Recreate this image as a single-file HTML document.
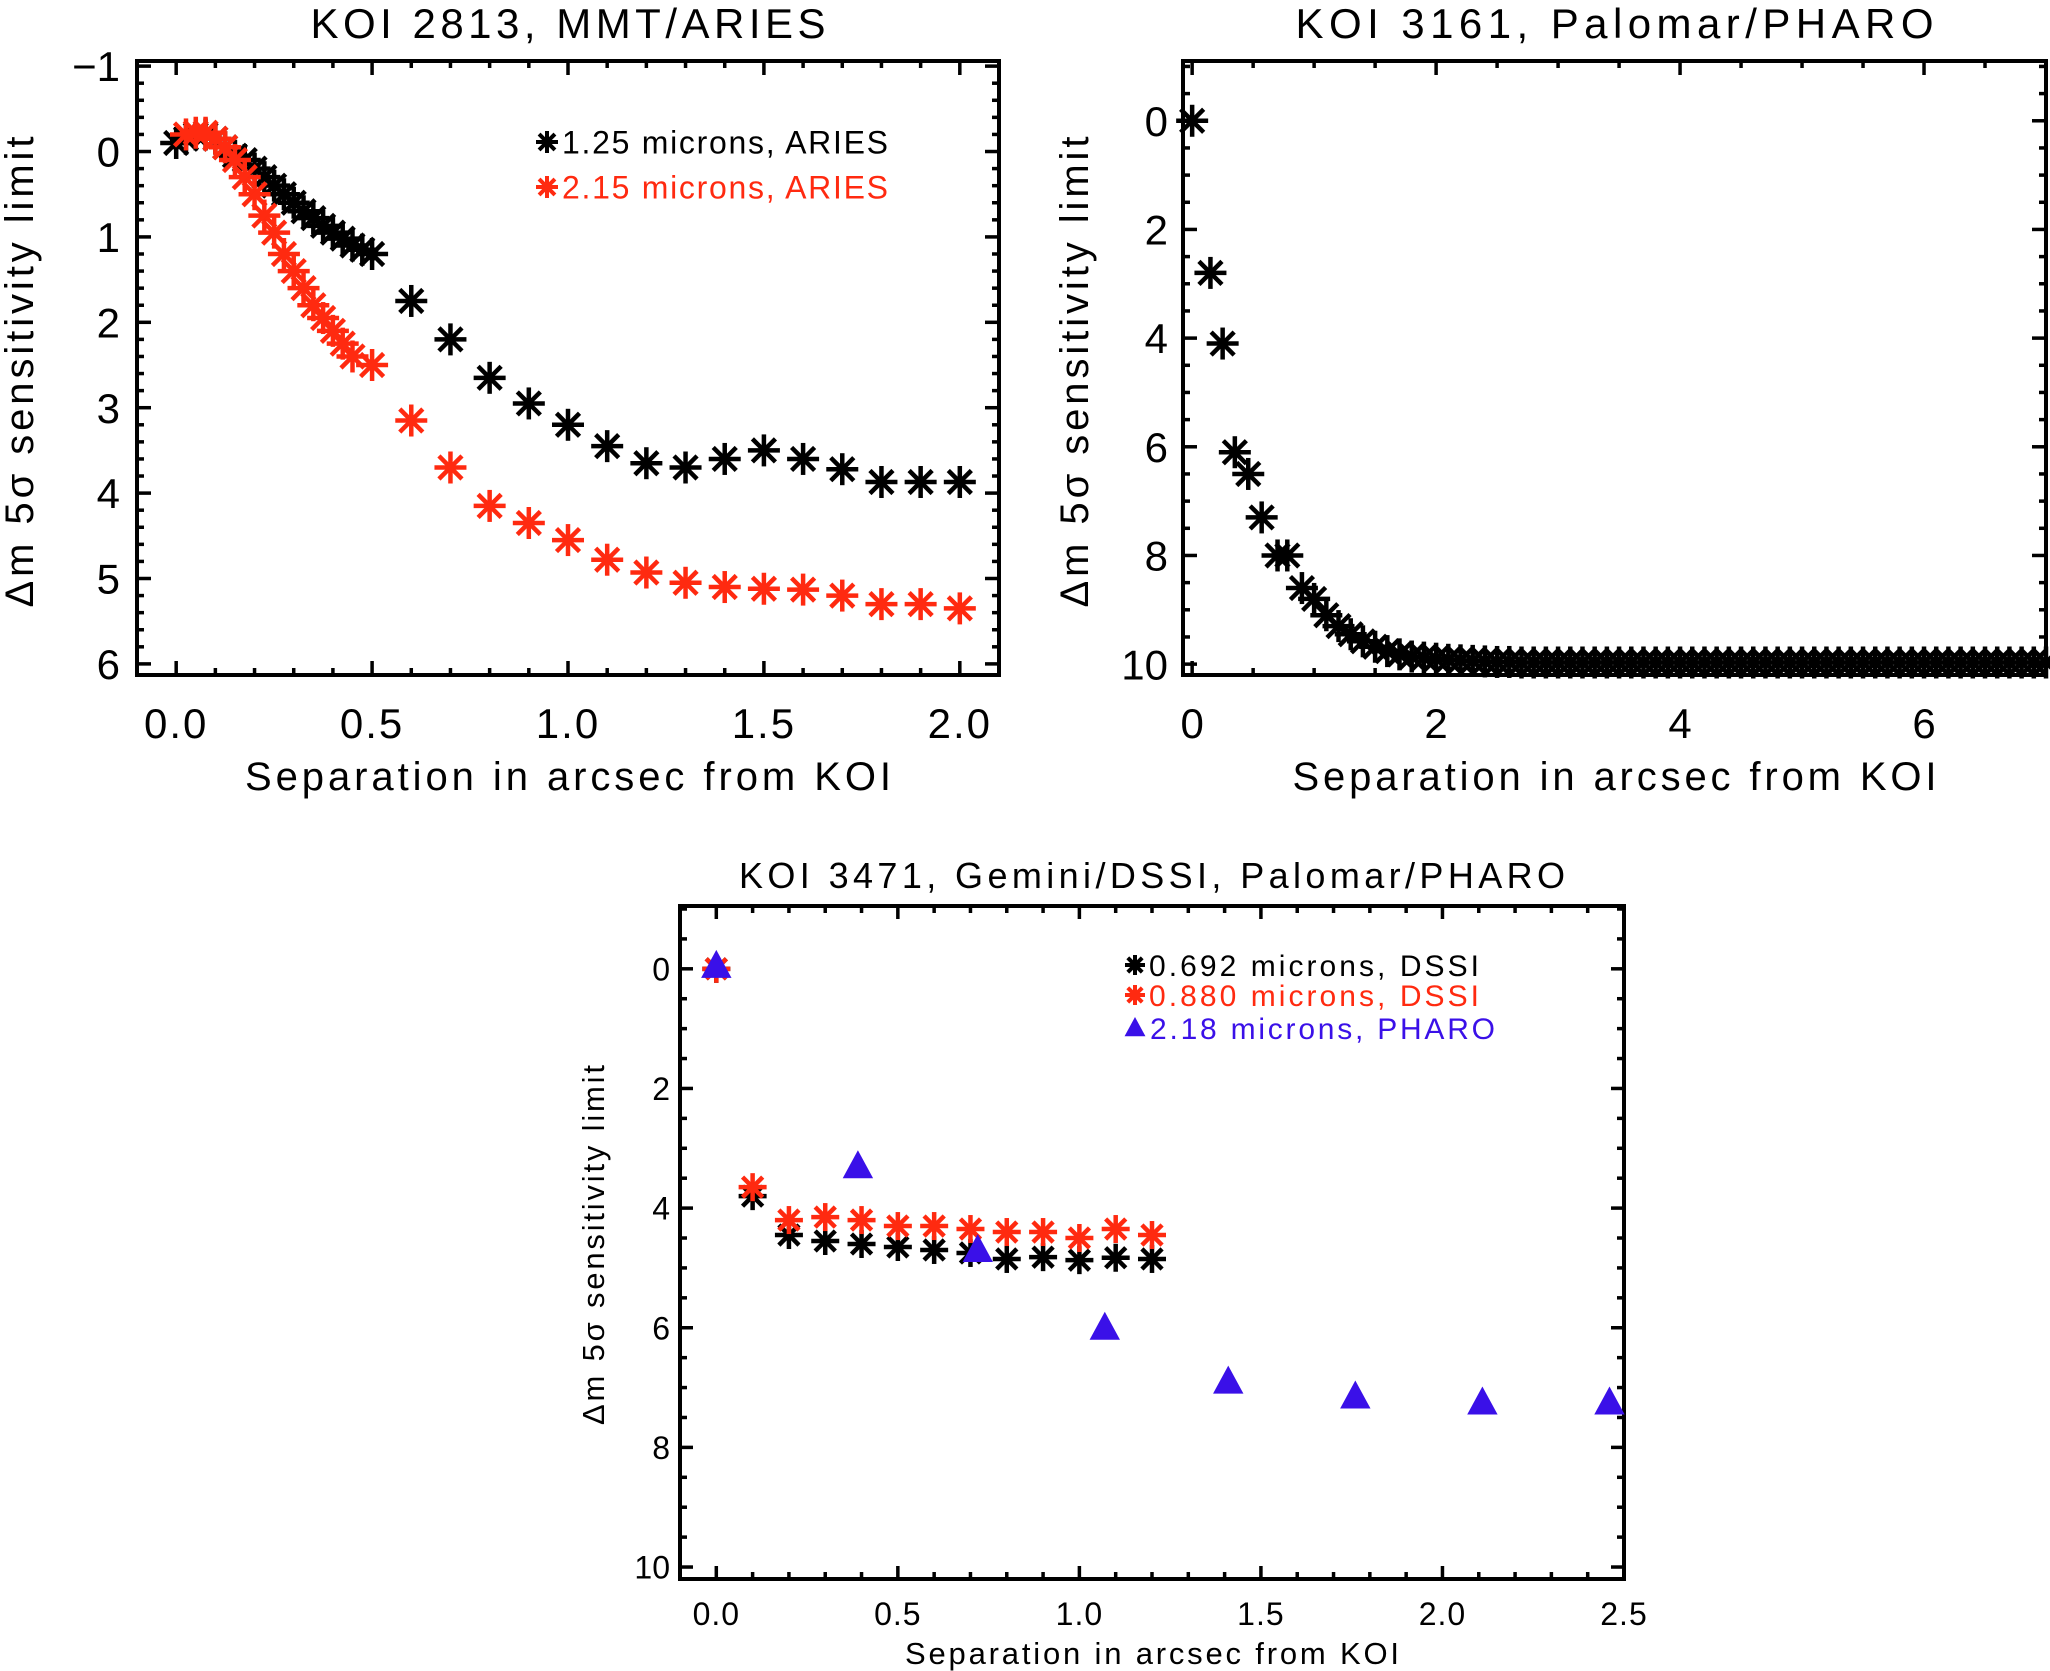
<!DOCTYPE html>
<html><head><meta charset="utf-8"><style>
html,body{margin:0;padding:0;background:#fff}
svg{display:block}
text{font-family:"Liberation Sans",sans-serif;fill:#000}
</style></head><body>
<svg id="fig" width="2050" height="1671" viewBox="0 0 2050 1671" xmlns="http://www.w3.org/2000/svg"></svg>
<script>
// ---- Panel 1: KOI 2813 ----
const p1BlackX=[0,0.025,0.05,0.075,0.1,0.125,0.15,0.175,0.2,0.225,0.25,0.275,0.3,0.325,0.35,0.375,0.4,0.425,0.45,0.475,0.5,0.6,0.7,0.8,0.9,1.0,1.1,1.2,1.3,1.4,1.5,1.6,1.7,1.8,1.9,2.0];
const p1BlackY=[-0.1,-0.15,-0.2,-0.2,-0.15,-0.05,0.05,0.1,0.2,0.3,0.4,0.5,0.6,0.7,0.78,0.87,0.95,1.02,1.1,1.15,1.2,1.75,2.2,2.65,2.95,3.2,3.45,3.65,3.7,3.6,3.5,3.6,3.72,3.87,3.87,3.87];
const p1RedX=[0.025,0.05,0.075,0.1,0.125,0.15,0.175,0.2,0.225,0.25,0.275,0.3,0.325,0.35,0.375,0.4,0.425,0.45,0.5,0.6,0.7,0.8,0.9,1.0,1.1,1.2,1.3,1.4,1.5,1.6,1.7,1.8,1.9,2.0];
const p1RedY=[-0.2,-0.22,-0.22,-0.15,-0.05,0.1,0.3,0.5,0.75,0.95,1.2,1.4,1.6,1.8,1.95,2.1,2.25,2.4,2.5,3.15,3.7,4.15,4.35,4.55,4.78,4.93,5.05,5.1,5.12,5.13,5.2,5.3,5.3,5.35];
const p1XTicks=["0.0","0.5","1.0","1.5","2.0"];
const p1YTicks=["−1","0","1","2","3","4","5","6"];
// ---- Panel 2: KOI 3161 ----
const p2X=[0,0.15,0.25,0.35,0.46,0.57,0.7,0.78,0.9,1.0,1.1,1.2,1.3,1.4,1.5,1.6,1.7,1.8,1.9,2.0,2.1,2.2,2.3,2.4,2.5,2.6,2.7,2.8,2.9,3.0,3.1,3.2,3.3,3.4,3.5,3.6,3.7,3.8,3.9,4.0,4.1,4.2,4.3,4.4,4.5,4.6,4.7,4.8,4.9,5.0,5.1,5.2,5.3,5.4,5.5,5.6,5.7,5.8,5.9,6.0,6.1,6.2,6.3,6.4,6.5,6.6,6.7,6.8,6.9,7.0];
const p2Y=[0,2.8,4.1,6.1,6.5,7.3,8.0,8.0,8.6,8.8,9.1,9.3,9.45,9.58,9.68,9.76,9.82,9.86,9.88,9.9,9.92,9.93,9.94,9.95,9.96,9.96,9.97,9.97,9.97,9.97,9.97,9.97,9.97,9.97,9.97,9.97,9.97,9.97,9.97,9.97,9.97,9.97,9.97,9.97,9.97,9.97,9.97,9.97,9.97,9.97,9.97,9.97,9.97,9.97,9.97,9.97,9.97,9.97,9.97,9.97,9.97,9.97,9.97,9.97,9.97,9.97,9.97,9.97,9.97,9.97];
const p2XTicks=["0","2","4","6"];
const p2YTicks=["0","2","4","6","8","10"];
// ---- Panel 3: KOI 3471 ----
const p3BlackX=[0,0.1,0.2,0.3,0.4,0.5,0.6,0.7,0.8,0.9,1.0,1.1,1.2];
const p3BlackY=[0.0,3.8,4.45,4.55,4.6,4.65,4.7,4.75,4.85,4.82,4.87,4.83,4.85];
const p3RedX=[0,0.1,0.2,0.3,0.4,0.5,0.6,0.7,0.8,0.9,1.0,1.1,1.2];
const p3RedY=[0.0,3.65,4.2,4.15,4.2,4.3,4.3,4.35,4.4,4.4,4.5,4.35,4.45];
const p3BlueX=[0.0,0.39,0.72,1.07,1.41,1.76,2.11,2.46];
const p3BlueY=[-0.05,3.3,4.7,6.0,6.9,7.15,7.25,7.25];
const p3XTicks=["0.0","0.5","1.0","1.5","2.0","2.5"];
const p3YTicks=["0","2","4","6","8","10"];

const NS="http://www.w3.org/2000/svg";
const svg=document.getElementById('fig');
function mk(tag,attrs,parent){const e=document.createElementNS(NS,tag);for(const k in attrs)e.setAttribute(k,attrs[k]);(parent||svg).appendChild(e);return e;}

function panel(o){
  const g=mk('g',{});
  
  
  const sx=v=>o.L+(v-o.x0)/(o.x1-o.x0)*(o.R-o.L);
  const sy=v=>o.T+(v-o.y0)/(o.y1-o.y0)*(o.B-o.T);
  const tg=mk('g',{stroke:'#000','stroke-width':3.5},g);
  for(let v=o.xMinStart;v<=o.x1+1e-9;v+=o.xMinor){
    const x=sx(v); if(x<o.L-0.5||x>o.R+0.5)continue;
    const maj=Math.abs(v/o.xMajor-Math.round(v/o.xMajor))<1e-6;
    const len=maj?o.majLen:o.minLen;
    mk('line',{x1:x,y1:o.B,x2:x,y2:o.B-len},tg);
    mk('line',{x1:x,y1:o.T,x2:x,y2:o.T+len},tg);
  }
  for(let v=o.yMinStart;v<=o.y1+1e-9;v+=o.yMinor){
    const y=sy(v); if(y<o.T-0.5||y>o.B+0.5)continue;
    const maj=Math.abs(v/o.yMajor-Math.round(v/o.yMajor))<1e-6;
    const len=maj?o.majLen:o.minLen;
    mk('line',{x1:o.L,y1:y,x2:o.L+len,y2:y},tg);
    mk('line',{x1:o.R,y1:y,x2:o.R-len,y2:y},tg);
  }
  mk('rect',{x:o.L,y:o.T,width:o.R-o.L,height:o.B-o.T,fill:'none',stroke:'#000','stroke-width':4},g);
  o.xTicks.forEach(s=>{
    const v=parseFloat(s);
    const t=mk('text',{x:sx(v),y:o.xLabY,'text-anchor':'middle','font-size':o.tickFs,'letter-spacing':o.tickLs},g);
    
    
    t.textContent=s;
  });
  o.yTicks.forEach(s=>{
    const v=parseFloat(s.replace('−','-'));
    const t=mk('text',{x:o.yLabX,y:sy(v)+o.tickFs*0.36,'text-anchor':'end','font-size':o.tickFs},g);
    
    
    t.textContent=s;
  });
  const ti=mk('text',{x:(o.L+o.R)/2,y:o.titleY,'text-anchor':'middle','font-size':o.titleFs,textLength:o.titleW,lengthAdjust:'spacing'},g);
  
  
  ti.textContent=o.title;
  const xt=mk('text',{x:(o.L+o.R)/2,y:o.xTitleY,'text-anchor':'middle','font-size':o.axFs,textLength:o.xTitleW,lengthAdjust:'spacing'},g);
  
  
  xt.textContent='Separation in arcsec from KOI';
  const yt=mk('text',{x:0,y:0,'text-anchor':'middle','font-size':o.axFs,textLength:o.yTitleW,lengthAdjust:'spacing',transform:`translate(${o.yTitleX},${o.yTitleC}) rotate(-90)`},g);
  
  
  yt.textContent='Δm 5σ sensitivity limit';
  return {g,sx,sy};
}
function star(parent,x,y,r,color,sw){
  const s=mk('g',{stroke:color,'stroke-width':sw,'stroke-linecap':'butt'},parent);
  const d=r*0.72;
  mk('line',{x1:x-r,y1:y,x2:x+r,y2:y},s);
  mk('line',{x1:x,y1:y-r,x2:x,y2:y+r},s);
  mk('line',{x1:x-d,y1:y-d,x2:x+d,y2:y+d},s);
  mk('line',{x1:x-d,y1:y+d,x2:x+d,y2:y-d},s);
  return s;
}
function tri(parent,x,y,r,color){
  return mk('polygon',{points:`${x},${y-r} ${x-r*0.95},${y+r*0.75} ${x+r*0.95},${y+r*0.75}`,fill:color},parent);
}
function legend(parent,x,y,fs,color,label,kind,r,w){
  const lg=mk('g',{},parent);
  
  
  if(kind==='tri')tri(lg,x,y,r,color);else star(lg,x,y,r,color,4);
  const t=mk('text',{x:x+r+4,y:y+fs*0.36,'font-size':fs,fill:color,textLength:w,lengthAdjust:'spacing'},lg);
  t.style.fill=color;
  t.textContent=label;
}

// Panel 1
const P1=panel({name:'panel-koi-2813',L:137,R:999,T:61,B:675,x0:-0.1,x1:2.1,y0:-1.06,y1:6.13,
  xMinStart:0,xMinor:0.1,xMajor:0.5,yMinStart:-1,yMinor:0.2,yMajor:1,majLen:14,minLen:7,
  xTicks:p1XTicks,yTicks:p1YTicks,tickFs:42,tickLs:2,xLabY:738,yLabX:120,titleFs:42,titleY:38,titleW:515,
  title:'KOI 2813, MMT/ARIES',axFs:40,xTitleY:790,xTitleW:646,yTitleX:33,yTitleC:372,yTitleW:471});
const s1=mk('g',{},P1.g);


p1BlackX.forEach((v,i)=>star(s1,P1.sx(v),P1.sy(p1BlackY[i]),16,'#000',4.5));
const s1r=mk('g',{},P1.g);


p1RedX.forEach((v,i)=>star(s1r,P1.sx(v),P1.sy(p1RedY[i]),16,'#ff2a10',4.5));
legend(P1.g,547,142,32,'#000','1.25 microns, ARIES','star',11,326);
legend(P1.g,547,187,32,'#ff2a10','2.15 microns, ARIES','star',11,326);

// Panel 2
const P2=panel({name:'panel-koi-3161',L:1183,R:2046,T:61,B:675,x0:-0.075,x1:7.0,y0:-1.1,y1:10.2,
  xMinStart:0,xMinor:0.5,xMajor:2,yMinStart:-1,yMinor:0.5,yMajor:2,majLen:14,minLen:7,
  xTicks:p2XTicks,yTicks:p2YTicks,tickFs:42,tickLs:0,xLabY:738,yLabX:1168,titleFs:42,titleY:38,titleW:638,
  title:'KOI 3161, Palomar/PHARO',axFs:40,xTitleY:790,xTitleW:644,yTitleX:1088,yTitleC:372,yTitleW:471});
const s2=mk('g',{},P2.g);


p2X.forEach((v,i)=>star(s2,P2.sx(v),P2.sy(p2Y[i]),16,'#000',4.5));

// Panel 3
const P3=panel({name:'panel-koi-3471',L:680,R:1624,T:906,B:1579,x0:-0.1,x1:2.5,y0:-1.05,y1:10.2,
  xMinStart:0,xMinor:0.1,xMajor:0.5,yMinStart:-1,yMinor:0.5,yMajor:2,majLen:13,minLen:7,
  xTicks:p3XTicks,yTicks:p3YTicks,tickFs:32,tickLs:1,xLabY:1625,yLabX:670,titleFs:36,titleY:888,titleW:826,
  title:'KOI 3471, Gemini/DSSI, Palomar/PHARO',axFs:31,xTitleY:1664,xTitleW:494,yTitleX:604,yTitleC:1245,yTitleW:360});
const s3=mk('g',{},P3.g);


p3BlackX.forEach((v,i)=>star(s3,P3.sx(v),P3.sy(p3BlackY[i]),14,'#000',4.5));
const s3r=mk('g',{},P3.g);


p3RedX.forEach((v,i)=>star(s3r,P3.sx(v),P3.sy(p3RedY[i]),14,'#ff2a10',4.5));
const s3b=mk('g',{},P3.g);


p3BlueX.forEach((v,i)=>tri(s3b,P3.sx(v),P3.sy(p3BlueY[i]),16,'#3a10e8'));
legend(P3.g,1135,965,30,'#000','0.692 microns, DSSI','star',10,330);
legend(P3.g,1135,995,30,'#ff2a10','0.880 microns, DSSI','star',10,330);
legend(P3.g,1135,1028,30,'#3a10e8','2.18 microns, PHARO','tri',11,345);
</script>
</body></html>
